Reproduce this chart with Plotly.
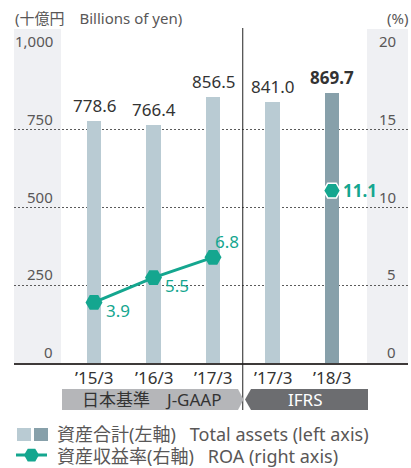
import plotly.graph_objects as go

# ---- data ----
periods = ["’15/3", "’16/3", "’17/3", "’17/3", "’18/3"]
total_assets = [778.6, 766.4, 856.5, 841.0, 869.7]
roa = [3.9, 5.5, 6.8, None, 11.1]
left_ticks = [0, 250, 500, 750, 1000]
left_tick_text = ["0", "250", "500", "750", "1,000"]
right_tick_text = ["0", "5", "10", "15", "20"]
standards = ["日本基準　J-GAAP", "IFRS"]

# ---- style ----
FONT = "Noto Sans, Noto Sans CJK JP, sans-serif"
TXT = "#3e3a39"
TICK = "#595757"
BAR_LIGHT = "#b9cbd3"
BAR_DARK = "#87a0aa"
TEAL = "#14a68f"
STRIP = "#eff0f3"
BAND_LIGHT = "#b5b6b9"
BAND_DARK = "#6c6d70"

W, H = 411, 468
L, R, T, B = 14, 408, 52, 363


def px(xp):
    return (xp - L) / (R - L)


def py(yp):
    return (B - yp) / (B - T)


bar_colors = [BAR_LIGHT] * 4 + [BAR_DARK]

fig = go.Figure()
fig.add_trace(go.Bar(
    x=list(range(len(periods))), y=total_assets, width=0.25,
    marker=dict(color=bar_colors, line=dict(width=0)),
    hoverinfo="skip", showlegend=False,
))
fig.add_trace(go.Scatter(
    x=list(range(len(periods))), y=roa, yaxis="y2", mode="lines+markers",
    line=dict(color=TEAL, width=3), connectgaps=False,
    marker=dict(symbol="hexagon2", size=17, color=TEAL,
                line=dict(color=["rgba(0,0,0,0)"] * 4 + ["white"], width=1.5)),
    hoverinfo="skip", showlegend=False,
))

shapes = []
annotations = []

# grey strips behind tick labels
for x0, x1 in [(14, 61), (367, 408)]:
    shapes.append(dict(type="rect", xref="paper", yref="paper",
                       x0=px(x0), x1=px(x1), y0=0, y1=py(29),
                       fillcolor=STRIP, line=dict(width=0), layer="below"))

# divider line between J-GAAP and IFRS
shapes.append(dict(type="line", xref="x", yref="paper", x0=2.5, x1=2.5,
                   y0=py(410), y1=py(28), line=dict(color="#222222", width=1)))

# tick labels
for v, lt, rt in zip(left_ticks, left_tick_text, right_tick_text):
    annotations.append(dict(xref="paper", yref="y", x=px(55), y=v, text=lt,
                            xanchor="right", yanchor="bottom", yshift=-1,
                            showarrow=False, font=dict(size=15, color=TICK, family=FONT)))
    annotations.append(dict(xref="paper", yref="y", x=px(398), y=v, text=rt,
                            xanchor="right", yanchor="bottom", yshift=-1,
                            showarrow=False, font=dict(size=15, color=TICK, family=FONT)))

# unit titles
annotations.append(dict(xref="paper", yref="paper", x=px(13), y=py(18),
                        text="(十億円　Billions of yen)", xanchor="left", yanchor="middle",
                        showarrow=False, font=dict(size=15, color=TICK, family=FONT)))
annotations.append(dict(xref="paper", yref="paper", x=px(410), y=py(18),
                        text="(%)", xanchor="right", yanchor="middle",
                        showarrow=False, font=dict(size=15, color=TICK, family=FONT)))

# bar value labels
for i, v in enumerate(total_assets):
    bold = i == len(total_assets) - 1
    annotations.append(dict(xref="x", yref="y", x=i, y=v, text=(f"<b>{v:.1f}</b>" if bold else f"{v:.1f}"),
                            xanchor="center", yanchor="bottom", yshift=2,
                            showarrow=False, font=dict(size=17, color="#333333", family=FONT)))

# ROA labels
roa_offsets = {0: (10, -8), 1: (9, -8), 2: (0, 16), 4: (9, 0)}
for i, v in enumerate(roa):
    if v is None:
        continue
    dx, dy = roa_offsets[i]
    bold = i == 4
    annotations.append(dict(xref="x", yref="y2", x=i, y=v, text=(f"<b>{v:.1f}</b>" if bold else f"{v:.1f}"),
                            xanchor="left", yanchor="middle", xshift=dx, yshift=dy,
                            showarrow=False, font=dict(size=17, color=TEAL, family=FONT)))

# period labels
for i, p in enumerate(periods):
    annotations.append(dict(xref="x", yref="paper", x=i, y=py(377), text=p,
                            xanchor="center", yanchor="middle", showarrow=False,
                            font=dict(size=17, color="#333333", family=FONT)))

# accounting standard bands
y_top, y_mid, y_bot = py(389), py(399.5), py(410)
shapes.append(dict(type="path", xref="paper", yref="paper",
                   path=f"M {px(62)},{y_top} L {px(238)},{y_top} L {px(243.5)},{y_mid} "
                        f"L {px(238)},{y_bot} L {px(62)},{y_bot} Z",
                   fillcolor=BAND_LIGHT, line=dict(width=0)))
shapes.append(dict(type="path", xref="paper", yref="paper",
                   path=f"M {px(245)},{y_mid} L {px(251)},{y_top} L {px(368)},{y_top} "
                        f"L {px(368)},{y_bot} L {px(251)},{y_bot} Z",
                   fillcolor=BAND_DARK, line=dict(width=0)))
annotations.append(dict(xref="paper", yref="paper", x=px(152), y=y_mid, text=standards[0],
                        xanchor="center", yanchor="middle", showarrow=False,
                        font=dict(size=17, color="#333333", family=FONT)))
annotations.append(dict(xref="paper", yref="paper", x=px(305), y=y_mid, text=standards[1],
                        xanchor="center", yanchor="middle", showarrow=False,
                        font=dict(size=17, color="white", family=FONT)))

# legend
for (x0, x1), c in zip([(17, 31), (34, 48)], [BAR_LIGHT, BAR_DARK]):
    shapes.append(dict(type="rect", xref="paper", yref="paper", x0=px(x0), x1=px(x1),
                       y0=py(441), y1=py(428), fillcolor=c, line=dict(width=0)))
shapes.append(dict(type="line", xref="paper", yref="paper", x0=px(16), x1=px(47),
                   y0=py(455), y1=py(455), line=dict(color=TEAL, width=3)))
cx, cy, r = 31.5, 455, 7.5
hx = [cx - r, cx - r / 2, cx + r / 2, cx + r, cx + r / 2, cx - r / 2]
hy = [cy, cy - r * 0.85, cy - r * 0.85, cy, cy + r * 0.85, cy + r * 0.85]
shapes.append(dict(type="path", xref="paper", yref="paper",
                   path="M " + " L ".join(f"{px(a)},{py(b)}" for a, b in zip(hx, hy)) + " Z",
                   fillcolor=TEAL, line=dict(width=0)))
annotations.append(dict(xref="paper", yref="paper", x=px(55), y=py(434),
                        text="資産合計(左軸)   Total assets (left axis)", xanchor="left", yanchor="middle",
                        showarrow=False, font=dict(size=18, color=TICK, family=FONT)))
annotations.append(dict(xref="paper", yref="paper", x=px(55), y=py(455.5),
                        text="資産収益率(右軸)   ROA (right axis)", xanchor="left", yanchor="middle",
                        showarrow=False, font=dict(size=18, color=TICK, family=FONT)))

fig.update_layout(
    width=W, height=H,
    margin=dict(l=L, r=W - R, t=T, b=H - B, pad=0),
    paper_bgcolor="white", plot_bgcolor="rgba(0,0,0,0)",
    font=dict(family=FONT, color=TXT),
    xaxis=dict(range=[(L - 94) / 59.5, (R - 94) / 59.5], showticklabels=False, ticks="",
               showgrid=False, zeroline=False, showline=True, linecolor="#3e3a39",
               linewidth=2, fixedrange=True),
    yaxis=dict(range=[0, 1001], tickvals=left_ticks[1:], showticklabels=False, ticks="",
               showgrid=True, gridcolor="#5a5a5a", gridwidth=1.2, griddash="2px,2px",
               zeroline=False, fixedrange=True),
    yaxis2=dict(range=[0, 20.02], overlaying="y", side="right", showticklabels=False,
                ticks="", showgrid=False, zeroline=False, fixedrange=True),
    shapes=shapes, annotations=annotations,
    bargap=0,
)

fig.write_html("out.html", config={"displayModeBar": False},
               post_script="document.body.style.margin='0';document.body.style.overflow='hidden';")
